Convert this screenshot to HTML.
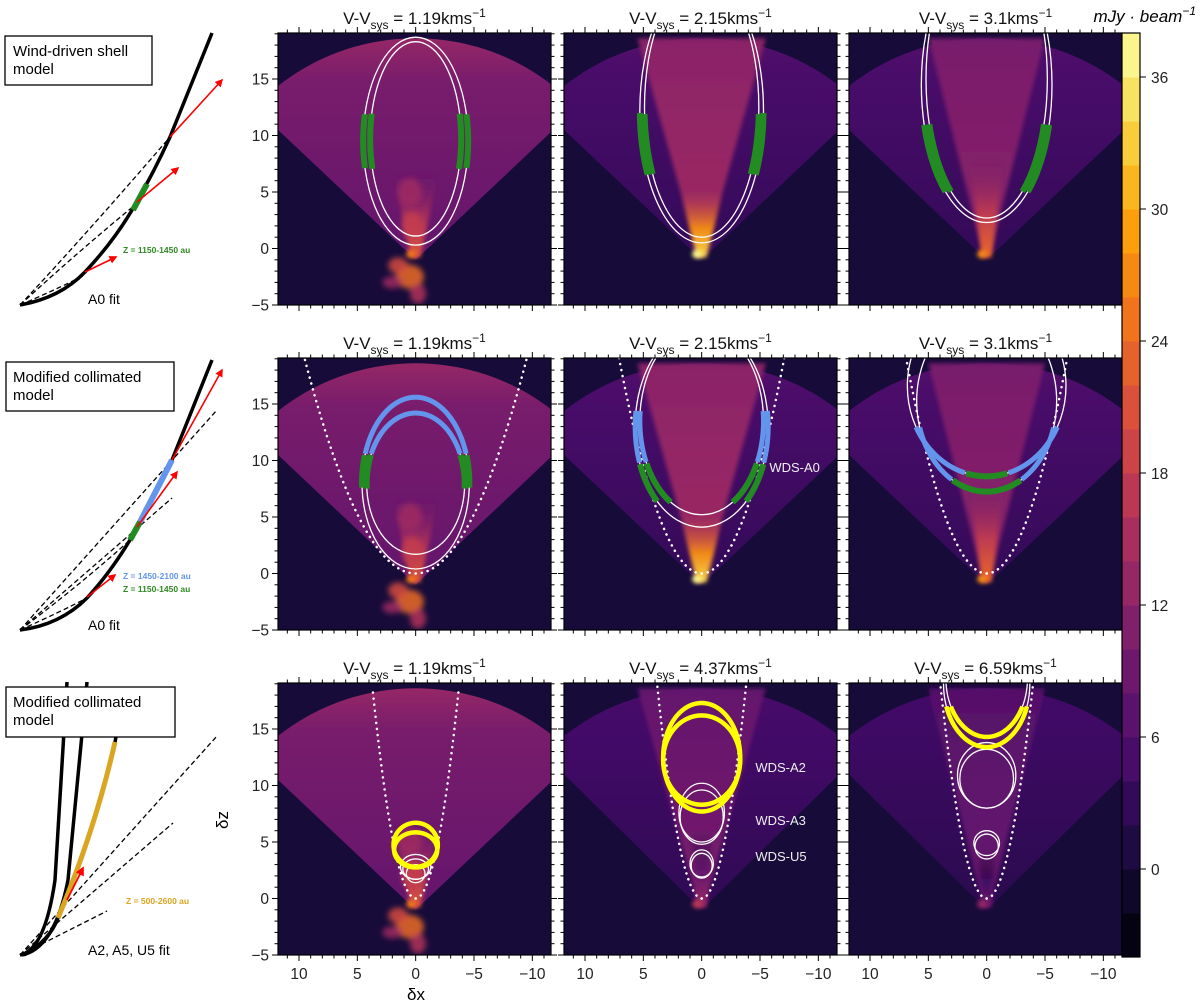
<!DOCTYPE html>
<html><head><meta charset="utf-8"><style>
html,body{margin:0;padding:0;background:#fff;}
svg{display:block;font-family:"Liberation Sans","DejaVu Sans",sans-serif;}
</style></head><body>
<svg id="fig" width="1200" height="1008" viewBox="0 0 1200 1008" xmlns="http://www.w3.org/2000/svg">
<defs>
<filter id="blur3" x="-50%" y="-50%" width="200%" height="200%"><feGaussianBlur stdDeviation="3"/></filter>
<filter id="blur2" x="-50%" y="-50%" width="200%" height="200%"><feGaussianBlur stdDeviation="2"/></filter>
<marker id="arr" viewBox="0 0 10 10" refX="8" refY="5" markerWidth="5" markerHeight="5" orient="auto"><path d="M0,0L10,5L0,10z" fill="#ff0000"/></marker>
</defs>
<g>
<rect x="5" y="36" width="147" height="49" fill="#fff" stroke="#000" stroke-width="1.3"/>
<text x="13" y="56" font-size="15"><tspan x="13">Wind-driven shell</tspan><tspan x="13" dy="18">model</tspan></text>
<g fill="none" stroke="#000" stroke-width="1.3" stroke-dasharray="5,3">
<path d="M20,305 Q90,230 170,137"/><path d="M20,305 Q80,250 135,205"/><path d="M20,305 Q55,290 85,275"/>
</g>
<path d="M20,305 Q60,298 85,272 Q115,240 135,205 Q155,170 170,137 L212,33" fill="none" stroke="#000" stroke-width="3.5"/>
<path d="M133,210 L147,184" stroke="#228b22" stroke-width="6"/>
<g stroke="#ff0000" stroke-width="1.6" marker-end="url(#arr)">
<path d="M170,137 L222,80"/><path d="M137,202 L178,168"/><path d="M85,272 L116,257"/>
</g>
<text x="123" y="253" font-size="8.5" font-weight="bold" fill="#2e8b22">Z = 1150-1450 au</text>
<text x="88" y="304" font-size="14">A0 fit</text>
</g>
<g>
<rect x="6" y="362" width="168" height="49" fill="#fff" stroke="#000" stroke-width="1.3"/>
<text x="13" y="382" font-size="15"><tspan x="13">Modified collimated</tspan><tspan x="13" dy="18">model</tspan></text>
<g fill="none" stroke="#000" stroke-width="1.3" stroke-dasharray="5,3">
<path d="M20,630 L217,410"/><path d="M20,630 L172,498"/><path d="M20,630 Q80,585 130,540"/><path d="M20,630 Q60,612 87,598"/>
</g>
<path d="M20,630 Q60,625 87,598 Q110,573 130,540 Q150,500 172,460 L212,360" fill="none" stroke="#000" stroke-width="3.5"/>
<path d="M140,522 L172,460" stroke="#6495ed" stroke-width="6"/>
<path d="M130,540 L140,522" stroke="#228b22" stroke-width="6"/>
<g stroke="#ff0000" stroke-width="1.6" marker-end="url(#arr)">
<path d="M172,460 L222,370"/><path d="M137,527 L177,472"/><path d="M87,597 L115,575"/>
</g>
<text x="123" y="579" font-size="8.5" font-weight="bold" fill="#6495ed">Z = 1450-2100 au</text>
<text x="123" y="592" font-size="8.5" font-weight="bold" fill="#2e8b22">Z = 1150-1450 au</text>
<text x="88" y="630" font-size="14">A0 fit</text>
</g>
<g>
<g fill="none" stroke="#000" stroke-width="1.3" stroke-dasharray="5,3">
<path d="M20,955 L217,736"/><path d="M20,955 L173,823"/><path d="M20,955 L107,911"/>
</g>
<path d="M20,955 Q45,950 55,880 L67,682" fill="none" stroke="#000" stroke-width="3.5"/>
<path d="M22,955 Q55,948 68,880 L87,682" fill="none" stroke="#000" stroke-width="3.5"/>
<path d="M24,955 Q50,940 58,918 Q95,830 115,742 L116,737" fill="none" stroke="#000" stroke-width="3.5"/>
<path d="M58,918 Q95,830 115,742" fill="none" stroke="#daa520" stroke-width="5"/>
<path d="M67,900 L83,868" stroke="#ff0000" stroke-width="1.8" marker-end="url(#arr)"/>
<rect x="6" y="687" width="169" height="50" fill="#fff" stroke="#000" stroke-width="1.3"/>
<text x="13" y="707" font-size="15"><tspan x="13">Modified collimated</tspan><tspan x="13" dy="18">model</tspan></text>
<text x="126" y="904" font-size="8.5" font-weight="bold" fill="#daa520">Z = 500-2600 au</text>
<text x="88" y="955" font-size="14">A2, A5, U5 fit</text>
</g>
<g id="panels"></g>
<g id="cbar"></g>
<text x="228" y="820" font-size="17" transform="rotate(-90 228 820)" text-anchor="middle">δz</text>
<text x="416" y="1000" font-size="17" text-anchor="middle">δx</text>
<text x="1196" y="22" font-size="17" font-style="italic" text-anchor="end">mJy · beam<tspan dy="-7" font-size="12">−1</tspan></text>
</svg>
<script>
// ---- colorbar data ----
const cbarLevels = [-4,-2,0,2,4,6,8,10,12,14,16,18,20,22,24,26,28,30,32,34,36,38];
const cbarTicks = [0,6,12,18,24,30,36];
// ---- panel data ----
const velocities = [["1.19","2.15","3.1"],["1.19","2.15","3.1"],["1.19","4.37","6.59"]];
// ellipses per panel: [cx, cy, rx, ry] in data units
const ellipses = [
 [[[0,9.5,4.5,9.2],[0,9.7,3.9,8.6]], [[0,12.2,5.3,11.7],[0,12.5,4.9,11.5]], [[0,14.5,5.6,12.2],[0,15,5.2,12.3]]],
 [[[0,8,4.6,7.6],[0,7.95,4.2,6.25]], [[0,13,5.7,8.9],[0,13.5,5.3,8.3]], [[0,16.6,6.8,8.0],[0,15.25,6.0,8.0]]],
 [[[0,4.75,1.9,1.95],[0,4.3,1.85,1.55],[0,2.8,1.3,1.1],[0,2.6,1.1,0.9],[0,2.2,0.8,0.8]],
  [[0,12.5,3.3,4.8],[0,12.25,3.3,3.95],[0,7.6,1.95,2.6],[0,7.2,1.85,2.4],[0,3.1,1.0,1.2],[0,2.9,0.9,1.1]],
  [[0,19,3.7,5.6],[0,19.5,3.5,5.2],[0,10.9,2.5,2.9],[0,10.6,2.3,2.6],[0,4.9,1.1,1.1],[0,4.6,1.0,1.1]]]
];
// coloured segments: [ellipseIndex, zMin, zMax, colourKey]
const segments = [
 [[[0,7,12,"g"],[1,7,12,"g"]], [[0,6.5,12,"g"],[1,6.5,12,"g"]], [[0,5,11,"g"],[1,5,11,"g"]]],
 [[[0,10.5,99,"b"],[1,10.5,99,"b"],[0,7.5,10.5,"g"],[1,7.5,10.5,"g"]], [[0,9.8,14.5,"b"],[1,9.8,14.5,"b"],[0,6.3,9.8,"g"],[1,6.3,9.8,"g"]], [[0,8.9,13,"b"],[0,-9,8.9,"g"],[1,8.3,13,"b"],[1,-9,8.3,"g"]]],
 [[[0,-9,99,"y"],[1,-9,99,"y"]], [[0,-9,99,"y"],[1,-9,99,"y"]], [[0,-9,17,"y"],[1,-9,17,"y"]]]
];
// dotted parabola z = a*x^2 (null = none)
const parabolaA = [[null,null,null],[0.21,0.38,0.4],[1.36,1.3,1.2]];
// panel annotations [text, x, z]
const labels = [[[],[],[]],[[],[["WDS-A0",-5.8,9.0]],[]],[[],[["WDS-A2",-4.6,11.2],["WDS-A3",-4.6,6.5],["WDS-U5",-4.6,3.3]],[]]];
const xTicks = [10,5,0,-5,-10];
const yTicks = [15,10,5,0,-5];

const NS="http://www.w3.org/2000/svg";
function mk(tag, attrs, parent){const e=document.createElementNS(NS,tag);for(const k in attrs)e.setAttribute(k,attrs[k]);if(parent)parent.appendChild(e);return e;}
const infStops=[[0,"#000004"],[0.1,"#160b39"],[0.2,"#420a68"],[0.3,"#6a176e"],[0.4,"#932667"],[0.5,"#bc3754"],[0.6,"#dd513a"],[0.7,"#f37819"],[0.8,"#fca50a"],[0.9,"#f6d746"],[1,"#fcffa4"]];
function hex(h){return [1,3,5].map(i=>parseInt(h.substr(i,2),16));}
function inferno(t){t=Math.max(0,Math.min(1,t));for(let i=1;i<infStops.length;i++){if(t<=infStops[i][0]){const a=infStops[i-1],b=infStops[i];const f=(t-a[0])/(b[0]-a[0]);const c1=hex(a[1]),c2=hex(b[1]);return "rgb("+c1.map((v,j)=>Math.round(v+(c2[j]-v)*f)).join(",")+")";}}return infStops[10][1];}
function cmap(v){return inferno((v+4)/42);}

const PL=[278,564,849], PT=[33,358,683], PW=273, PH=272;
const XD=[11.8,-11.6], YD=[-5,19.07];
const segCol={g:"#228b22",b:"#6495ed",y:"#ffff00"};
const SW={g:6,b:5,y:4.5};
// appearance: [broadEdgeZ, broadVal, rimVal, innerW, innerVal, coreH, coreW, coreVal, jet]
const A1=[10.5,9,13,0,0,7,2.0,22,1];
const fanStyle=[
 [A1,[10.5,4,6,5.5,11,5,1.8,34,0],[10.5,4,6,5,9,8,1.5,24,0]],
 [A1,[10.5,4,6,5.5,11,5,1.8,34,0],[10.5,4,6,5,9,8,1.5,24,0]],
 [A1,[11,3.5,5,5.5,7,6,0.9,14,0],[11,3,4.5,5,5.5,4,0.7,10,0]]
];
const panels=document.getElementById("panels");
for(let r=0;r<3;r++)for(let c=0;c<3;c++){
  const L=PL[c],T=PT[r];
  const sx=x=>L+(XD[0]-x)/(XD[0]-XD[1])*PW;
  const sy=z=>T+PH-(z-YD[0])/(YD[1]-YD[0])*PH;
  const g=mk("g",{},panels);
  
  
  const cid="clip"+r+c;
  const cp=mk("clipPath",{id:cid},g);mk("rect",{x:L,y:T,width:PW,height:PH},cp);
  const img=mk("g",{"clip-path":"url(#"+cid+")"},g);
  
  
  mk("rect",{x:L,y:T,width:PW,height:PH,fill:cmap(0.3)},img);
  const fs=fanStyle[r][c];
  const R=18.6, ex=11.8, ez=fs[0];
  const ezTop=Math.sqrt(R*R-ex*ex);
  let d="M"+sx(0)+","+sy(-1)+" L"+sx(ex)+","+sy(ez)+" L"+sx(ex)+","+sy(ezTop);
  const pts=[];for(let i=0;i<=40;i++){const x=ex-2*ex*i/40;pts.push(sx(x)+","+sy(Math.sqrt(Math.max(0,R*R-x*x))));}
  d+=" L"+pts.join(" L")+" L"+sx(-ex)+","+sy(ez)+" Z";
  const gid="fg"+r+c;
  const lg=mk("linearGradient",{id:gid,x1:0,y1:0,x2:0,y2:1},g);
  mk("stop",{offset:"0","stop-color":cmap(fs[2])},lg);
  mk("stop",{offset:"0.2","stop-color":cmap(fs[1]+1)},lg);
  mk("stop",{offset:"1","stop-color":cmap(fs[1]-1)},lg);
  const fan=mk("path",{d:d,fill:"url(#"+gid+")"},img);
  
  
  if(fs[3]>0){
    const ig="ig"+r+c;
    const lg3=mk("linearGradient",{id:ig,x1:0,y1:0,x2:0,y2:1},g);
    mk("stop",{offset:"0","stop-color":cmap(fs[4]+1)},lg3);
    mk("stop",{offset:"1","stop-color":cmap(fs[4]+3)},lg3);
    const w=fs[3];
    const inner=mk("path",{d:"M"+sx(0.3)+","+sy(-0.5)+" L"+sx(w)+","+sy(18.6)+" L"+sx(-w)+","+sy(18.6)+" L"+sx(-0.3)+","+sy(-0.5)+"Z",fill:"url(#"+ig+")",filter:"url(#blur2)"},img);
    
    
  }
  const cg="cg"+r+c;
  const lg2=mk("linearGradient",{id:cg,x1:0,y1:1,x2:0,y2:0},g);
  mk("stop",{offset:"0","stop-color":cmap(fs[7]),"stop-opacity":1},lg2);
  mk("stop",{offset:"0.45","stop-color":cmap(fs[7]-6),"stop-opacity":0.9},lg2);
  mk("stop",{offset:"1","stop-color":cmap(fs[7]-14),"stop-opacity":0}, lg2);
  const core=mk("path",{d:"M"+sx(0.4)+","+sy(-0.8)+" L"+sx(fs[6])+","+sy(fs[5])+" L"+sx(-fs[6])+","+sy(fs[5])+" L"+sx(-0.4)+","+sy(-0.8)+"Z",fill:"url(#"+cg+")",filter:"url(#blur2)"},img);
  
  
  mk("ellipse",{cx:sx(0.4),cy:sy(-0.5),rx:5,ry:4,fill:cmap(fs[7]+3),filter:"url(#blur2)"},img);
  if(fs[8]){
    const jet=mk("g",{filter:"url(#blur3)"},img);
    
    
    [[0.5,-2.5,14,12,24],[1.5,-1.5,10,8,20],[-0.2,-4,8,10,16],[0.3,2,10,14,18],[0.5,5,12,14,14],[2,-3,10,6,14]].forEach(k=>mk("ellipse",{cx:sx(k[0]),cy:sy(k[1]),rx:k[2],ry:k[3],fill:cmap(k[4]),opacity:0.85},jet));
  }
  const ov=mk("g",{"clip-path":"url(#"+cid+")"},g);
  const A=parabolaA[r][c];
  if(A){
    [1,-1].forEach(s=>{const p=[];for(let i=0;i<=60;i++){const x=s*10*i/60;const z=A*x*x;if(z<=YD[1]+0.5)p.push(sx(x)+","+sy(z));}
      const pl=mk("polyline",{points:p.join(" "),fill:"none",stroke:"#fff","stroke-width":2.5,"stroke-dasharray":"0.1,6","stroke-linecap":"round"},ov);
      
      });
  }
  ellipses[r][c].forEach(e=>{
    const el=mk("ellipse",{cx:sx(e[0]),cy:sy(e[1]),rx:Math.abs(sx(e[2])-sx(0)),ry:Math.abs(sy(e[3])-sy(0)),fill:"none",stroke:"#fff","stroke-width":1.3},ov);
    
    
  });
  segments[r][c].forEach(s=>{
    const e=ellipses[r][c][s[0]];
    let run=[];const runs=[];
    for(let i=0;i<=360;i++){const t=i/360*2*Math.PI;const x=e[0]+e[2]*Math.cos(t),z=e[1]+e[3]*Math.sin(t);
      if(z>=s[1]&&z<=s[2])run.push(sx(x)+","+sy(z));else{if(run.length)runs.push(run);run=[];}}
    if(run.length){const inFirst=(e[1]>=s[1]&&e[1]<=s[2]);if(runs.length&&inFirst)runs[0]=run.concat(runs[0]);else runs.push(run);}
    runs.forEach(rn=>{const pl=mk("polyline",{points:rn.join(" "),fill:"none",stroke:segCol[s[3]],"stroke-width":SW[s[3]]},ov);
      
      });
  });
  labels[r][c].forEach(l=>{const t=mk("text",{x:sx(l[1]),y:sy(l[2]),"font-size":13,fill:"#eee"},ov);t.textContent=l[0];
    
    });
  const fr=mk("rect",{x:L,y:T,width:PW,height:PH,fill:"none",stroke:"#000","stroke-width":1.2},g);
  
  
  const tk=mk("g",{stroke:"#000","stroke-width":1},g);
  
  
  for(let v=-11;v<=11;v++){const X=sx(v);if(X<L||X>L+PW)continue;const len=v%5===0?6:3.5;
    mk("line",{x1:X,y1:T+PH,x2:X,y2:T+PH+len},tk);mk("line",{x1:X,y1:T,x2:X,y2:T-len},tk);}
  for(let v=-5;v<=19;v++){const Y=sy(v);const len=v%5===0?6:3.5;
    mk("line",{x1:L,y1:Y,x2:L-len,y2:Y},tk);mk("line",{x1:L+PW,y1:Y,x2:L+PW+len,y2:Y},tk);}
  if(c===0) yTicks.forEach(v=>{const t=mk("text",{x:L-9,y:sy(v)+5.5,"font-size":15.5,"text-anchor":"end",fill:"#222"},g);t.textContent=v<0?"−"+(-v):v;
    
    });
  if(r===2) xTicks.forEach(v=>{const t=mk("text",{x:sx(v),y:T+PH+24,"font-size":15.5,"text-anchor":"middle",fill:"#222"},g);t.textContent=v<0?"−"+(-v):v;
    
    });
  const ti=mk("text",{x:L+PW/2,y:T-9,"font-size":17,"text-anchor":"middle",fill:"#111"},g);
  ti.innerHTML='V-V<tspan dy="5" font-size="12">sys</tspan><tspan dy="-5"> = '+velocities[r][c]+'kms</tspan><tspan dy="-7" font-size="12">−1</tspan>';
  
  
}
const cb=document.getElementById("cbar");


const CX=1122,CW=18,CT=33,CB=957;
const cy=v=>CB-(v-cbarLevels[0])/(cbarLevels[cbarLevels.length-1]-cbarLevels[0])*(CB-CT);
for(let i=0;i<cbarLevels.length-1;i++){
  const b=mk("rect",{x:CX,y:cy(cbarLevels[i+1]),width:CW,height:cy(cbarLevels[i])-cy(cbarLevels[i+1])+0.5,fill:cmap((cbarLevels[i]+cbarLevels[i+1])/2)},cb);
  
  
}
mk("rect",{x:CX,y:CT,width:CW,height:CB-CT,fill:"none",stroke:"#000","stroke-width":1.2},cb);
cbarTicks.forEach(v=>{mk("line",{x1:CX+CW,y1:cy(v),x2:CX+CW+6,y2:cy(v),stroke:"#000"},cb);
  const t=mk("text",{x:CX+CW+11,y:cy(v)+6,"font-size":15.5,fill:"#222"},cb);t.textContent=v;
  
  });
</script>
</body></html>
